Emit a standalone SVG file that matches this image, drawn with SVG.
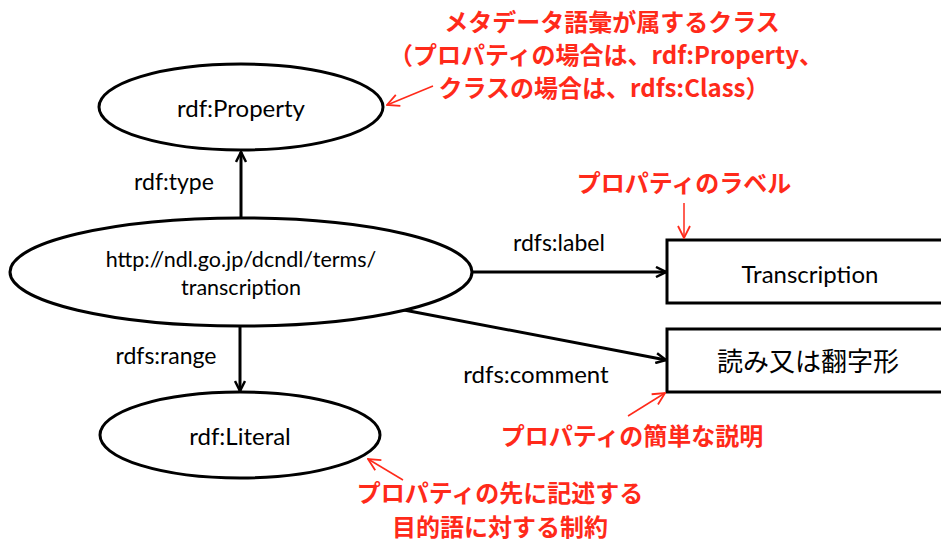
<svg xmlns="http://www.w3.org/2000/svg" width="941" height="543" viewBox="0 0 941 543">
  <style>
    .node { fill: #fff; stroke: #000; stroke-width: 3; }
    .lbl { font-family: Lato, "Open Sans", "Noto Sans CJK JP", sans-serif; fill: #000; text-anchor: middle; }
    .edge { stroke: #000; stroke-width: 3; fill: none; marker-end: url(#arrow); }
    .note { font-family: "Noto Sans CJK JP", sans-serif; font-weight: bold; fill: #ff2a1a; font-size: 24px; text-anchor: middle; }
    .pointer { stroke: #ff2a1a; stroke-width: 1.5; fill: none; marker-end: url(#redArrow); }
  </style>
  <defs>
    <marker id="arrow" viewBox="0 0 12 12" refX="11" refY="6" markerWidth="12" markerHeight="12" markerUnits="userSpaceOnUse" orient="auto">
      <path d="M1,1 L11,6 L1,11" fill="none" stroke="#000" stroke-width="2.5"/>
    </marker>
    <marker id="redArrow" viewBox="0 0 14 14" refX="13" refY="7" markerWidth="14" markerHeight="14" markerUnits="userSpaceOnUse" orient="auto">
      <path d="M1,1 L13,7 L1,13" fill="none" stroke="#ff2a1a" stroke-width="1.8"/>
    </marker>
  </defs>
  <rect width="941" height="543" fill="#fff"/>

  <!-- connectors -->
  <g id="connectors">
    <line class="edge" x1="241" y1="218" x2="241" y2="152"/>
    <line class="edge" x1="240" y1="327" x2="240" y2="391"/>
    <line class="edge" x1="473" y1="272" x2="666" y2="272"/>
    <line class="edge" x1="404" y1="310" x2="666" y2="360"/>
    <text class="lbl" x="174" y="190" font-size="23">rdf:type</text>
    <text class="lbl" x="166" y="364" font-size="23">rdfs:range</text>
    <text class="lbl" x="559" y="251" font-size="23">rdfs:label</text>
    <text class="lbl" x="536" y="383" font-size="24">rdfs:comment</text>
  </g>

  <g id="property">
    <ellipse class="node" cx="241" cy="107" rx="142" ry="43"/>
    <text class="lbl" x="241" y="117" font-size="24">rdf:Property</text>
  </g>

  <g id="transcription-uri">
    <ellipse class="node" cx="241" cy="272" rx="231" ry="54"/>
    <text class="lbl" x="241" y="267" font-size="21.5">http://ndl.go.jp/dcndl/terms/</text>
    <text class="lbl" x="241" y="295" font-size="21.5">transcription</text>
  </g>

  <g id="literal">
    <ellipse class="node" cx="240" cy="435" rx="140" ry="43"/>
    <text class="lbl" x="240" y="445" font-size="24">rdf:Literal</text>
  </g>

  <g id="label-value">
    <rect class="node" x="667" y="240" width="290" height="63"/>
    <text class="lbl" x="810" y="283" font-size="24">Transcription</text>
  </g>

  <g id="comment-value">
    <rect class="node" x="667" y="329" width="290" height="63"/>
    <text class="lbl" x="808" y="371" font-size="26">読み又は翻字形</text>
  </g>

  <!-- annotations -->
  <g id="note-class">
    <text class="note" x="612" y="31">メタデータ語彙が属するクラス</text>
    <text class="note" x="606" y="64">（プロパティの場合は、rdf:Property、</text>
    <text class="note" x="604" y="97">クラスの場合は、rdfs:Class）</text>
    <line class="pointer" x1="433" y1="86" x2="387" y2="105"/>
  </g>
  <g id="note-label">
    <text class="note" x="684" y="192">プロパティのラベル</text>
    <line class="pointer" x1="684" y1="203" x2="684" y2="238"/>
  </g>
  <g id="note-comment">
    <text class="note" x="632" y="445">プロパティの簡単な説明</text>
    <line class="pointer" x1="628" y1="416" x2="665" y2="393"/>
  </g>
  <g id="note-range">
    <text class="note" x="500" y="502" font-size="22.5">プロパティの先に記述する</text>
    <text class="note" x="500" y="536" font-size="22.5">目的語に対する制約</text>
    <line class="pointer" x1="403" y1="480" x2="368" y2="459"/>
  </g>
</svg>
